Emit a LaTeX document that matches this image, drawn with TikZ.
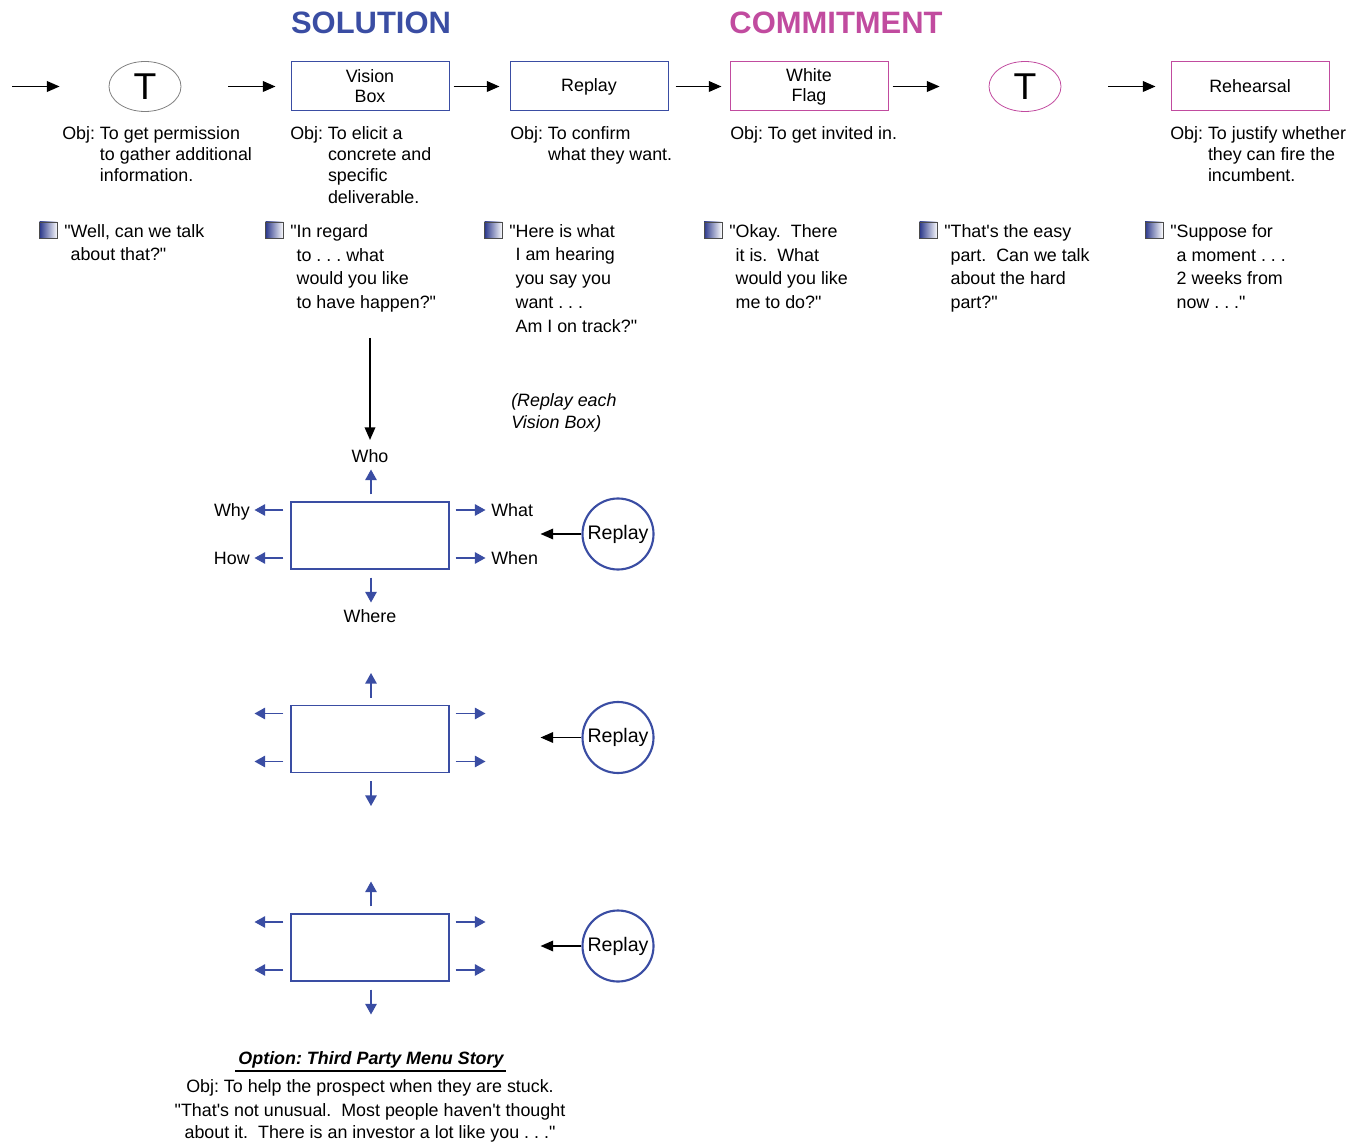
\documentclass[tikz,border=0pt]{standalone}
\usepackage{fontspec}
\newfontfamily\arial{Liberation Sans}
\usetikzlibrary{arrows.meta,calc,shapes.geometric}
\definecolor{solblue}{HTML}{3A4DA3}
\definecolor{comm}{HTML}{C14B9F}
\definecolor{iconblue}{HTML}{2A378A}
\newcommand{\objind}{\hphantom{Obj: }}
\newcommand{\qind}{\hphantom{"}}
\begin{document}
\arial\frenchspacing
% multi-line nodes are placed by the baseline of their last line
\begin{tikzpicture}[x=0.75pt,y=-0.75pt,
  txt/.style={font=\fontsize{13.4}{15.9}\selectfont, inner sep=0pt, align=left},
  qtxt/.style={font=\fontsize{13.4}{17.8}\selectfont, inner sep=0pt, align=left},
  lbl/.style={font=\fontsize{13.4}{15.9}\selectfont, inner sep=0pt},
  title/.style={font=\bfseries\fontsize{23.2}{23.2}\selectfont, inner sep=0pt},
  stagebox/.style={draw, line width=0.75pt, minimum width=118.5pt, minimum height=36.75pt,
    inner sep=0pt, font=\fontsize{13.4}{15}\selectfont, align=center},
  tnode/.style={ellipse, draw, line width=0.6pt, minimum width=54pt, minimum height=37.5pt,
    inner sep=0pt, font=\fontsize{28}{28}\selectfont},
  flowarr/.style={-{Triangle[length=9.5pt,width=8pt]}, line width=1.1pt},
  bluearr/.style={-{Triangle[length=8pt,width=8.5pt]}, line width=1.4pt, draw=solblue},
  vbox/.style={draw=solblue, line width=0.8pt, minimum width=118.5pt, minimum height=50.25pt, inner sep=0pt},
  rcircle/.style={circle, draw=solblue, line width=1.6pt, minimum size=53.25pt, inner sep=0pt,
    font=\fontsize{14.7}{14.7}\selectfont},
  bullet/.style={draw=black!70, line width=0.6pt, left color=iconblue, right color=white,
    minimum width=13.5pt, minimum height=12pt, inner sep=0pt},
]
\useasboundingbox (0,0) rectangle (1366,1144);

% headings
\node[title, text=solblue, anchor=base] (sol) at (371,34) {SOLUTION};
\node[title, text=comm, anchor=base] (com) at (836,34) {COMMITMENT};

% stage row
\coordinate (entry) at (12,86.5);
\node[tnode, draw=gray] (t1) at (145,86.5) {T};
\node[stagebox, draw=solblue] (vb) at (370,86.5) {Vision\\Box};
\node[stagebox, draw=solblue] (rp) at (589,86.5) {Replay};
\node[stagebox, draw=comm] (wf) at (809,86.5) {White\\Flag};
\node[tnode, draw=comm] (t2) at (1025,86.5) {T};
\node[stagebox, draw=comm] (rh) at (1250,86.5) {Rehearsal};

\draw[flowarr, shorten >=36.75pt] (entry) -- (t1.west);
\draw[flowarr, shorten <=35.25pt, shorten >=11.25pt] (t1.east) -- (vb.west);
\draw[flowarr, shorten <=3pt, shorten >=7.5pt] (vb.east) -- (rp.west);
\draw[flowarr, shorten <=5.25pt, shorten >=6pt] (rp.east) -- (wf.west);
\draw[flowarr, shorten <=3pt, shorten >=36.75pt] (wf.east) -- (t2.west);
\draw[flowarr, shorten <=35.25pt, shorten >=11.25pt] (t2.east) -- (rh.west);

% objectives
\node[txt, anchor=base west] (o1) at (62,181.9) {Obj: To get permission\\\objind to gather additional\\\objind information.};
\node[txt, anchor=base west] (o2) at (290,203.1) {Obj: To elicit a\\\objind concrete and\\\objind specific\\\objind deliverable.};
\node[txt, anchor=base west] (o3) at (510,160.7) {Obj: To confirm\\\objind what they want.};
\node[txt, anchor=base west] (o4) at (730,139.5) {Obj: To get invited in.};
\node[txt, anchor=base west] (o5) at (1170,181.9) {Obj: To justify whether\\\objind they can fire the\\\objind incumbent.};

% phrases
\node[bullet] (b1) at (48.5,230) {};
\node[bullet] (b2) at (274.5,230) {};
\node[bullet] (b3) at (493.5,230) {};
\node[bullet] (b4) at (713,230) {};
\node[bullet] (b5) at (928.5,230) {};
\node[bullet] (b6) at (1154,230) {};
\node[qtxt, anchor=base west] (q1) at (64,261) {"Well, can we talk\\\qind about that?"};
\node[qtxt, anchor=base west] (q2) at (290,308.5) {"In regard\\\qind to . . . what\\\qind would you like\\\qind to have happen?"};
\node[qtxt, anchor=base west] (q3) at (509,332.2) {"Here is what\\\qind I am hearing\\\qind you say you\\\qind want . . .\\\qind Am I on track?"};
\node[qtxt, anchor=base west] (q4) at (729,308.5) {"Okay.~ There\\\qind it is.~ What\\\qind would you like\\\qind me to do?"};
\node[qtxt, anchor=base west] (q5) at (944,308.5) {"That's the easy\\\qind part.~ Can we talk\\\qind about the hard\\\qind part?"};
\node[qtxt, anchor=base west] (q6) at (1170,308.5) {"Suppose for\\\qind a moment . . .\\\qind 2 weeks from\\\qind now . . ."};

% drill-down
\coordinate (drop) at (370,338);
\node[lbl, anchor=base] (who) at (370,462.5) {Who};
\draw[flowarr, shorten >=7pt] (drop) -- (who);
\node[txt, font=\itshape\fontsize{13.4}{16.5}\selectfont, anchor=base west] (note) at (511,428.5) {(Replay each\\Vision Box)};

\node[lbl, anchor=base east] (why) at (250,516.5) {Why};
\node[lbl, anchor=base east] (how) at (250,564.5) {How};
\node[lbl, anchor=base west] (what) at (491,516.5) {What};
\node[lbl, anchor=base west] (when) at (491,564.5) {When};
\node[lbl, anchor=base] (where) at (370,622.5) {Where};

\foreach \i/\yc in {1/535.5, 2/739, 3/947.5} {
  \node[vbox] (bx\i) at (370,\yc) {};
  \node[rcircle] (rc\i) at (618,\yc-1.5) {Replay};
  \draw[flowarr, shorten >=68.25pt] (rc\i.west) -- (rc\i.west -| bx\i.east);
  \draw[bluearr] ([shift={(1,-7)}]bx\i.north) -- ++(0,-25);
  \draw[bluearr] ([shift={(1,8)}]bx\i.south) -- ++(0,25);
  \draw[bluearr] ([shift={(-7,-25.5)}]bx\i.west) -- ++(-29,0);
  \draw[bluearr] ([shift={(-7,22.5)}]bx\i.west) -- ++(-29,0);
  \draw[bluearr] ([shift={(6,-25.5)}]bx\i.east) -- ++(30,0);
  \draw[bluearr] ([shift={(6,22.5)}]bx\i.east) -- ++(30,0);
}

% third party option
\node[lbl, font=\bfseries\itshape\fontsize{13.4}{15.9}\selectfont, anchor=base] (opt) at (371,1064.5) {Option: Third Party Menu Story};
\draw[line width=0.8pt] ($(opt.base west)+(-3,6.5)$) -- ($(opt.base east)+(2,6.5)$);
\node[lbl, anchor=base] (o6) at (370,1092.5) {Obj: To help the prospect when they are stuck.};
\node[lbl, align=center, font=\fontsize{13.4}{16.5}\selectfont, anchor=base] (q7) at (370,1138.5) {"That's not unusual.~ Most people haven't thought\\about it.~ There is an investor a lot like you . . ."};
\end{tikzpicture}
\end{document}
